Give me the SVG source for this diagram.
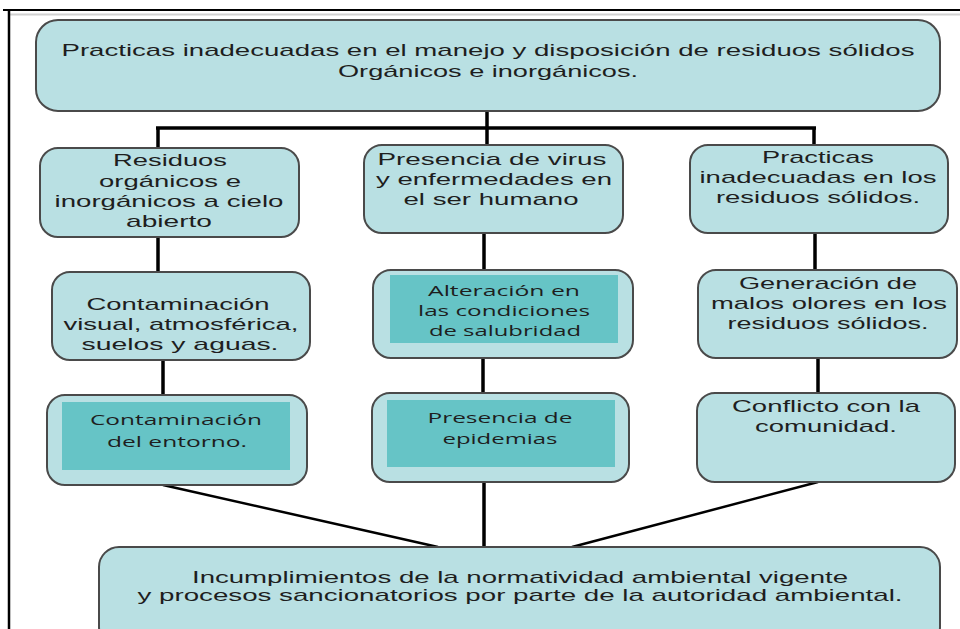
<svg xmlns="http://www.w3.org/2000/svg" width="960" height="629" viewBox="0 0 960 629">
<style>
.box{fill:#b9e0e3;stroke:#4a4a4a;stroke-width:2}
.inner{fill:#66c4c6}
.t{font-family:"Liberation Sans",Arial,sans-serif;font-size:17px;fill:#1e1e1e;text-anchor:middle}
.c{font-family:"Open Sans","Liberation Sans",sans-serif;font-size:14.5px;fill:#1e1e1e;text-anchor:middle}
.ln{stroke:#000;stroke-width:3.5;fill:none}
.dg{stroke:#000;stroke-width:2.5;fill:none}
</style>
<rect width="960" height="629" fill="#fff"/>
<g id="frame">
<line x1="3" y1="10" x2="960" y2="10" stroke="#000" stroke-width="2"/>
<line x1="10" y1="14.5" x2="960" y2="14.5" stroke="#d0d0d0" stroke-width="2"/>
<line x1="9" y1="9" x2="9" y2="629" stroke="#000" stroke-width="2.5"/>
</g>
<g id="connectors">
<line class="ln" x1="487" y1="111" x2="487" y2="128"/>
<line class="ln" x1="156" y1="128" x2="816" y2="128"/>
<line class="ln" x1="158" y1="128" x2="158" y2="148"/>
<line class="ln" x1="487" y1="128" x2="487" y2="145"/>
<line class="ln" x1="814" y1="128" x2="814" y2="145"/>
<line class="ln" x1="158" y1="237" x2="158" y2="272"/>
<line class="ln" x1="484" y1="233" x2="484" y2="270"/>
<line class="ln" x1="815" y1="233" x2="815" y2="270"/>
<line class="ln" x1="163" y1="360" x2="163" y2="395"/>
<line class="ln" x1="483" y1="358" x2="483" y2="393"/>
<line class="ln" x1="818" y1="358" x2="818" y2="393"/>
<line class="dg" x1="163" y1="485" x2="438" y2="547"/>
<line class="ln" x1="484" y1="482" x2="484" y2="547"/>
<line class="dg" x1="818" y1="482" x2="572" y2="547"/>
</g>
<g id="top">
<rect class="box" x="36" y="20" width="904" height="91" rx="22"/>
<text class="t" x="488" y="56" textLength="853" lengthAdjust="spacingAndGlyphs">Practicas inadecuadas en el manejo y disposición de residuos sólidos</text>
<text class="t" x="488" y="77" textLength="300" lengthAdjust="spacingAndGlyphs">Orgánicos e inorgánicos.</text>
</g>
<g id="r1l">
<rect class="box" x="40" y="148" width="259" height="89" rx="18"/>
<text class="t" x="170" y="166" textLength="114" lengthAdjust="spacingAndGlyphs">Residuos</text>
<text class="t" x="170" y="187" textLength="142" lengthAdjust="spacingAndGlyphs">orgánicos e</text>
<text class="t" x="169" y="207" textLength="229" lengthAdjust="spacingAndGlyphs">inorgánicos a cielo</text>
<text class="t" x="169" y="227" textLength="86" lengthAdjust="spacingAndGlyphs">abierto</text>
</g>
<g id="r1m">
<rect class="box" x="364" y="145" width="259" height="88" rx="18"/>
<text class="t" x="492" y="165" textLength="229" lengthAdjust="spacingAndGlyphs">Presencia de virus</text>
<text class="t" x="494" y="185" textLength="236" lengthAdjust="spacingAndGlyphs">y enfermedades en</text>
<text class="t" x="491" y="205" textLength="175" lengthAdjust="spacingAndGlyphs">el ser humano</text>
</g>
<g id="r1r">
<rect class="box" x="690" y="145" width="258" height="88" rx="18"/>
<text class="t" x="818" y="163" textLength="112" lengthAdjust="spacingAndGlyphs">Practicas</text>
<text class="t" x="818" y="183" textLength="237" lengthAdjust="spacingAndGlyphs">inadecuadas en los</text>
<text class="t" x="818" y="203" textLength="204" lengthAdjust="spacingAndGlyphs">residuos sólidos.</text>
</g>
<g id="r2l">
<rect class="box" x="52" y="272" width="258" height="88" rx="18"/>
<text class="t" x="178" y="310" textLength="183" lengthAdjust="spacingAndGlyphs">Contaminación</text>
<text class="t" x="181" y="330" textLength="235" lengthAdjust="spacingAndGlyphs">visual, atmosférica,</text>
<text class="t" x="180" y="350" textLength="197" lengthAdjust="spacingAndGlyphs">suelos y aguas.</text>
</g>
<g id="r2m">
<rect class="box" x="373" y="270" width="260" height="88" rx="18"/>
<rect class="inner" x="390" y="275" width="228" height="68"/>
<text class="c" x="504" y="296" textLength="152" lengthAdjust="spacingAndGlyphs">Alteración en</text>
<text class="c" x="504" y="316" textLength="172" lengthAdjust="spacingAndGlyphs">las condiciones</text>
<text class="c" x="505" y="336" textLength="152" lengthAdjust="spacingAndGlyphs">de salubridad</text>
</g>
<g id="r2r">
<rect class="box" x="698" y="270" width="259" height="88" rx="18"/>
<text class="t" x="828" y="289" textLength="178" lengthAdjust="spacingAndGlyphs">Generación de</text>
<text class="t" x="829" y="309" textLength="236" lengthAdjust="spacingAndGlyphs">malos olores en los</text>
<text class="t" x="828" y="329" textLength="201" lengthAdjust="spacingAndGlyphs">residuos sólidos.</text>
</g>
<g id="r3l">
<rect class="box" x="47" y="395" width="260" height="90" rx="18"/>
<rect class="inner" x="62" y="402" width="228" height="68"/>
<text class="c" x="176" y="425" textLength="172" lengthAdjust="spacingAndGlyphs">Contaminación</text>
<text class="c" x="177" y="447" textLength="140" lengthAdjust="spacingAndGlyphs">del entorno.</text>
</g>
<g id="r3m">
<rect class="box" x="372" y="393" width="257" height="89" rx="18"/>
<rect class="inner" x="387" y="400" width="228" height="67"/>
<text class="c" x="500" y="423" textLength="145" lengthAdjust="spacingAndGlyphs">Presencia de</text>
<text class="c" x="500" y="444" textLength="115" lengthAdjust="spacingAndGlyphs">epidemias</text>
</g>
<g id="r3r">
<rect class="box" x="697" y="393" width="258" height="89" rx="18"/>
<text class="t" x="826" y="412" textLength="188" lengthAdjust="spacingAndGlyphs">Conflicto con la</text>
<text class="t" x="826" y="432" textLength="142" lengthAdjust="spacingAndGlyphs">comunidad.</text>
</g>
<g id="bottom">
<rect class="box" x="99" y="547" width="841" height="100" rx="20"/>
<text class="t" x="520" y="583" textLength="656" lengthAdjust="spacingAndGlyphs">Incumplimientos de la normatividad ambiental vigente</text>
<text class="t" x="520" y="601" textLength="765" lengthAdjust="spacingAndGlyphs">y procesos sancionatorios por parte de la autoridad ambiental.</text>
</g>
</svg>
